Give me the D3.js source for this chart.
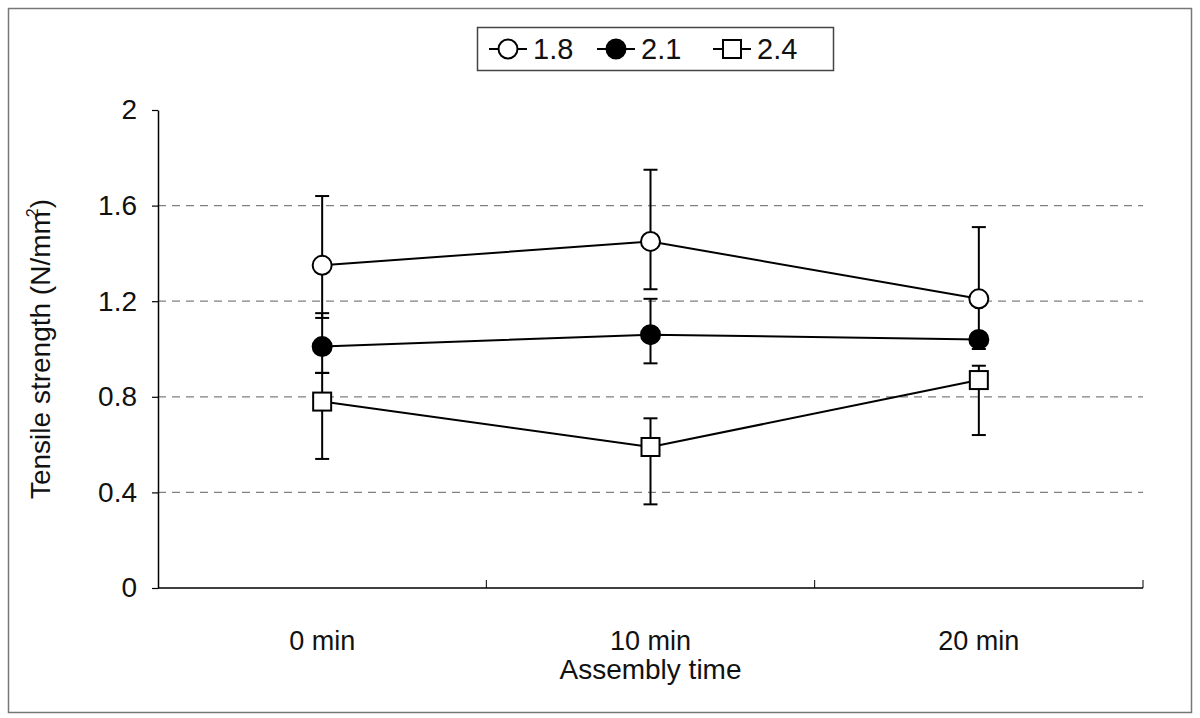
<!DOCTYPE html>
<html>
<head>
<meta charset="utf-8">
<script src="https://cdn.jsdelivr.net/npm/d3@7"></script>
<style>
  body { margin: 0; background: #fff; }
  svg text { font-family: "Liberation Sans", Arial, sans-serif; fill: #111; }
</style>
</head>
<body>
<div id="chart"></div>
<script>
// categories on the x axis
var categories = ["0 min", "10 min", "20 min"];
var seriesNames = ["1.8", "2.1", "2.4"];

// means and error bar ends per series
var mean18 = [1.35, 1.45, 1.21];
var upper18 = [1.64, 1.75, 1.51];
var lower18 = [1.13, 1.25, 1.04];

var mean21 = [1.01, 1.06, 1.04];
var upper21 = [1.15, 1.21, 1.06];
var lower21 = [0.90, 0.94, 1.00];

var mean24 = [0.78, 0.59, 0.87];
var upper24 = [0.90, 0.71, 0.93];
var lower24 = [0.54, 0.35, 0.64];

var yTicks = [0, 0.4, 0.8, 1.2, 1.6, 2];

var W = 1200, H = 718;
var margin = {top: 110, right: 57, bottom: 130, left: 158};

var series = [
  {name: seriesNames[0], mean: mean18, up: upper18, lo: lower18, shape: "circle", fill: "#fff"},
  {name: seriesNames[1], mean: mean21, up: upper21, lo: lower21, shape: "circle", fill: "#000"},
  {name: seriesNames[2], mean: mean24, up: upper24, lo: lower24, shape: "square", fill: "#fff"}
];

var svg = d3.select("#chart").append("svg")
    .attr("width", W)
    .attr("height", H);

// outer frame
svg.append("rect")
    .attr("x", 8.5).attr("y", 8.5)
    .attr("width", W - 17).attr("height", H - 14)
    .attr("fill", "none")
    .attr("stroke", "#777")
    .attr("stroke-width", 1.5);

var x = d3.scaleBand()
    .domain(categories)
    .range([margin.left, W - margin.right]);

var y = d3.scaleLinear()
    .domain([0, 2])
    .range([H - margin.bottom, margin.top]);

var cx = function(i) { return x(categories[i]) + x.bandwidth() / 2; };

// dashed gridlines
svg.append("g")
  .selectAll("line")
  .data(yTicks.filter(function(d) { return d > 0 && d < 2; }))
  .enter().append("line")
    .attr("x1", margin.left).attr("x2", W - margin.right)
    .attr("y1", function(d) { return y(d); })
    .attr("y2", function(d) { return y(d); })
    .attr("stroke", "#808080")
    .attr("stroke-width", 1.3)
    .attr("stroke-dasharray", "8,6");

// y axis
var yAxis = d3.axisLeft(y)
    .tickValues(yTicks)
    .tickFormat(function(d) { return d; })
    .tickSizeInner(6)
    .tickSizeOuter(0)
    .tickPadding(15);

var gy = svg.append("g")
    .attr("transform", "translate(" + margin.left + ",0)")
    .call(yAxis);
gy.select(".domain").attr("stroke", "#000").attr("stroke-width", 1.5);
gy.selectAll(".tick line").attr("stroke", "#000").attr("stroke-width", 1.2);
gy.selectAll(".tick text").style("font-size", "28px").attr("fill", "#111");

// x axis: ticks sit between the categories
var gx = svg.append("g")
    .attr("transform", "translate(0," + y(0) + ")");
gx.append("line")
    .attr("x1", margin.left).attr("x2", W - margin.right)
    .attr("stroke", "#000").attr("stroke-width", 1.5);
gx.selectAll(".sep")
  .data(categories)
  .enter().append("line")
    .attr("class", "sep")
    .attr("x1", function(d) { return x(d) + x.bandwidth(); })
    .attr("x2", function(d) { return x(d) + x.bandwidth(); })
    .attr("y1", 0).attr("y2", -8)
    .attr("stroke", "#000").attr("stroke-width", 1);
gx.selectAll(".lbl")
  .data(categories)
  .enter().append("text")
    .attr("class", "lbl")
    .attr("x", function(d) { return x(d) + x.bandwidth() / 2; })
    .attr("y", 62)
    .attr("text-anchor", "middle")
    .style("font-size", "27px")
    .text(function(d) { return d; });

// axis titles
svg.append("text")
    .attr("x", (margin.left + W - margin.right) / 2)
    .attr("y", 679)
    .attr("text-anchor", "middle")
    .style("font-size", "28px")
    .text("Assembly time");

var yt = svg.append("text")
    .attr("transform", "translate(50," + ((margin.top + H - margin.bottom) / 2) + ") rotate(-90)")
    .attr("text-anchor", "middle")
    .style("font-size", "28px");
yt.append("tspan").text("Tensile strength (N/mm");
yt.append("tspan").attr("dy", -12).attr("dx", -6).style("font-size", "16px").text("2");
yt.append("tspan").attr("dy", 12).text(")");

// error bars
var capW = 7;
series.forEach(function(s) {
  var g = svg.append("g");
  s.mean.forEach(function(m, i) {
    g.append("line")
        .attr("x1", cx(i)).attr("x2", cx(i))
        .attr("y1", y(s.up[i])).attr("y2", y(s.lo[i]))
        .attr("stroke", "#000").attr("stroke-width", 2);
    [s.up[i], s.lo[i]].forEach(function(v) {
      g.append("line")
          .attr("x1", cx(i) - capW).attr("x2", cx(i) + capW)
          .attr("y1", y(v)).attr("y2", y(v))
          .attr("stroke", "#000").attr("stroke-width", 2);
    });
  });
});

// connecting lines
var line = d3.line()
    .x(function(d, i) { return cx(i); })
    .y(function(d) { return y(d); });

series.forEach(function(s) {
  svg.append("path")
      .attr("d", line(s.mean))
      .attr("fill", "none")
      .attr("stroke", "#000")
      .attr("stroke-width", 2);
});

// markers
function drawMarker(g, shape, fill, px, py) {
  if (shape === "circle") {
    g.append("circle")
        .attr("cx", px).attr("cy", py).attr("r", 9.5)
        .attr("fill", fill).attr("stroke", "#000").attr("stroke-width", 2);
  } else {
    g.append("rect")
        .attr("x", px - 9).attr("y", py - 9)
        .attr("width", 18).attr("height", 18)
        .attr("fill", fill).attr("stroke", "#000").attr("stroke-width", 2);
  }
}

series.forEach(function(s) {
  var g = svg.append("g");
  s.mean.forEach(function(m, i) { drawMarker(g, s.shape, s.fill, cx(i), y(m)); });
});

// legend
var lg = svg.append("g").attr("transform", "translate(477,27)");
lg.append("rect")
    .attr("x", 0.5).attr("y", 0.5)
    .attr("width", 356).attr("height", 43)
    .attr("fill", "#fff").attr("stroke", "#444").attr("stroke-width", 1.5);

var legendX = [12, 120, 236];
series.forEach(function(s, i) {
  var g = lg.append("g").attr("transform", "translate(" + legendX[i] + ",22)");
  g.append("line").attr("x1", 0).attr("x2", 38)
      .attr("stroke", "#000").attr("stroke-width", 2);
  drawMarker(g, s.shape, s.fill, 19, 0);
  g.append("text")
      .attr("x", 44).attr("y", 10)
      .style("font-size", "29px")
      .text(s.name);
});
</script>
</body>
</html>
